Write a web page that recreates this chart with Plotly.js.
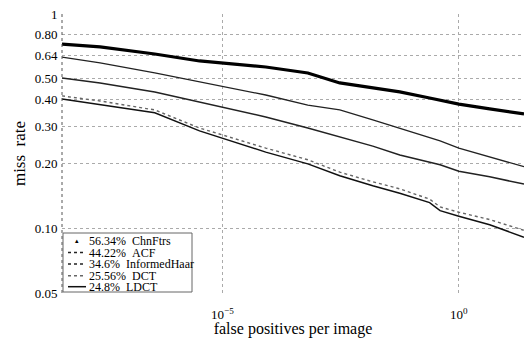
<!DOCTYPE html>
<html><head><meta charset="utf-8">
<script src="https://cdn.plot.ly/plotly-3.0.1.min.js"></script>
<style>html,body{margin:0;padding:0;background:#fff}#chart{width:524px;height:338px}</style>
</head><body><div id="chart"></div>
<script>
// false positives per image (x) sample points
var fppi = [3.9e-9, 2.5e-8, 3.6e-7, 3.2e-6, 8.1e-5, 6.3e-4, 3.0e-3, 1.5e-2, 5.6e-2, 0.24, 0.40, 1, 4.5, 24];
// miss rates per method
var chnFtrs      = [0.724, 0.702, 0.651, 0.604, 0.566, 0.531, 0.477, 0.452, 0.433, 0.406, 0.397, 0.380, 0.361, 0.342];
var acf          = [0.630, 0.591, 0.531, 0.482, 0.419, 0.376, 0.357, 0.321, 0.294, 0.265, 0.256, 0.237, 0.216, 0.194];
var informedHaar = [0.503, 0.477, 0.433, 0.389, 0.331, 0.294, 0.267, 0.242, 0.220, 0.203, 0.198, 0.185, 0.174, 0.161];
var dct          = [0.415, 0.393, 0.357, 0.294, 0.237, 0.209, 0.183, 0.165, 0.153, 0.137, 0.126, 0.119, 0.110, 0.098];
var ldct         = [0.401, 0.377, 0.346, 0.285, 0.227, 0.200, 0.176, 0.158, 0.146, 0.132, 0.121, 0.114, 0.104, 0.091];
var legendLabels = ['56.34% ChnFtrs', '44.22% ACF', '34.6% InformedHaar', '25.56% DCT', '24.8% LDCT'];
var yTicks = [0.05, 0.1, 0.2, 0.3, 0.4, 0.5, 0.64, 0.8, 1];
var yTickText = ['0.05', '0.10', '0.20', '0.30', '0.40', '0.50', '0.64', '0.80', '1'];
var xTicks = [1e-5, 1];
var xTickText = ['10<sup>\u22125</sup>', '10<sup>0</sup>'];

var FONT = "'Liberation Serif', 'DejaVu Serif', serif";
var series = [chnFtrs, acf, informedHaar, dct, ldct];
var styles = [
  {color:'#000', width:3.2, dash:'solid'},
  {color:'#222', width:1.3, dash:'solid'},
  {color:'#222', width:1.5, dash:'solid'},
  {color:'#666', width:1.4, dash:'dot'},
  {color:'#111', width:1.5, dash:'solid'}
];
var traces = series.map(function(s, i){
  return {x: fppi, y: s, type:'scatter', mode:'lines', name: legendLabels[i],
          line: styles[i], showlegend:false, hoverinfo:'skip'};
});

// custom compact legend (paper coords)
var L = 62, W = 462, T = 14, H = 279;
function px(x){return (x-L)/W;} function py(y){return (T+H-y)/H;}
var shapes = [
  {type:'line', xref:'paper', yref:'paper', x0:0, x1:0, y0:0, y1:1, line:{color:'#555', width:1, dash:'dot'}},
  {type:'rect', xref:'paper', yref:'paper', x0:px(63), x1:px(192), y0:py(292), y1:py(233), line:{color:'#666', width:1}, fillcolor:'#fff', layer:'above'}
];
var rowY = [240.7, 252.5, 264, 275.7, 286.7];
var annotations = [];
rowY.forEach(function(y, i){
  var parts = legendLabels[i].split(' ');
  annotations.push({xref:'paper', yref:'paper', x:px(88), y:py(y), xanchor:'left', yanchor:'middle', borderpad:0,
    text: parts[0] + '\u2002' + parts.slice(1).join(' '), showarrow:false, font:{family:FONT, size:12, color:'#000'}});
  if (i === 0) {
    annotations.push({xref:'paper', yref:'paper', x:px(77), y:py(y), xanchor:'center', yanchor:'middle', borderpad:0,
      text:'\u25B4', showarrow:false, font:{family:'DejaVu Sans', size:7, color:'#000'}});
  } else {
    var st = styles[i];
    shapes.push({type:'line', xref:'paper', yref:'paper', x0:px(68), x1:px(86), y0:py(y), y1:py(y),
      line:{color: st.color, width: Math.min(st.width,1.6), dash: i===4 ? 'solid' : 'dot'}, layer:'above'});
  }
});
// x tick labels placed as annotations in axis coordinates
xTicks.forEach(function(v, i){
  annotations.push({xref:'x', yref:'paper', x:Math.log10(v), y:0, yanchor:'top', xanchor:'center', yshift:-12,
    borderpad:0, text:xTickText[i], showarrow:false, font:{family:FONT, size:13, color:'#000'}});
});

var layout = {
  width:524, height:338,
  margin:{l:L, r:0, t:T, b:338-T-H},
  paper_bgcolor:'#fff', plot_bgcolor:'#fff',
  font:{family:FONT, color:'#000', size:13},
  showlegend:false,
  xaxis:{type:'log', range:[Math.log10(3.9e-9), Math.log10(24)], tickvals:xTicks, showticklabels:false,
    showgrid:true, gridcolor:'#aaa', griddash:'dot', gridwidth:1, zeroline:false, showline:false, ticks:'',
    title:{text:'false positives per image', font:{family:FONT, size:16}, standoff:35}},
  yaxis:{type:'log', range:[Math.log10(0.05), 0], tickvals:yTicks, ticktext:yTickText,
    showgrid:true, gridcolor:'#aaa', griddash:'dot', gridwidth:1, zeroline:false, showline:false,
    ticks:'outside', ticklen:1, tickcolor:'rgba(0,0,0,0)',
    tickfont:{family:FONT, size:13},
    title:{text:'miss\u2002rate', font:{family:FONT, size:17}, standoff:4}},
  shapes:shapes, annotations:annotations
};
Plotly.newPlot('chart', traces, layout, {staticPlot:true, displayModeBar:false});
</script></body></html>
